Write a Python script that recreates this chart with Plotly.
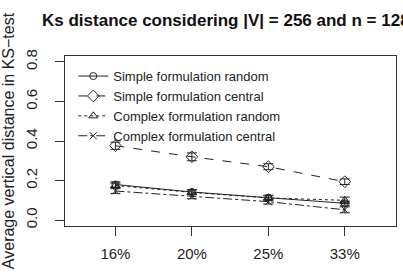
import plotly.graph_objects as go

categories = ["16%", "20%", "25%", "33%"]
simple_random = [0.180, 0.142, 0.113, 0.085]
simple_random_err = [0.013, 0.012, 0.010, 0.010]
simple_central = [0.376, 0.320, 0.270, 0.194]
simple_central_err = [0.018, 0.020, 0.015, 0.014]
complex_random = [0.175, 0.140, 0.112, 0.100]
complex_random_err = [0.012, 0.012, 0.014, 0.016]
complex_central = [0.147, 0.120, 0.093, 0.052]
complex_central_err = [0.012, 0.012, 0.012, 0.015]

series = [
    ("Simple formulation random", simple_random, simple_random_err, "solid", "circle-open", 7),
    ("Simple formulation central", simple_central, simple_central_err, "dash", "diamond-open", 9),
    ("Complex formulation random", complex_random, complex_random_err, "dot", "triangle-up-open", 8),
    ("Complex formulation central", complex_central, complex_central_err, "dashdot", "x-thin-open", 7),
]

xpos = list(range(1, len(categories) + 1))
FONT = "Liberation Sans, Arial, sans-serif"

fig = go.Figure()
for name, vals, errs, dash, sym, msize in series:
    fig.add_trace(go.Scatter(
        x=xpos, y=vals, name=name, mode="lines+markers",
        line=dict(color="#222", width=1, dash=dash),
        marker=dict(symbol=sym, size=msize, color="#222", line=dict(width=1, color="#222")),
        error_y=dict(type="data", array=errs, visible=True, color="#222", thickness=1, width=5),
    ))

fig.update_layout(
    width=403, height=272,
    margin=dict(l=62, r=6, t=56, b=46),
    paper_bgcolor="white", plot_bgcolor="white",
    font=dict(family=FONT, size=14, color="#222"),
    showlegend=True,
    title=dict(
        text="<b>Ks distance considering |V| = 256 and n = 128</b>",
        x=42 / 403, xref="container", xanchor="left",
        y=1 - 20 / 272, yref="container", yanchor="middle",
        font=dict(family=FONT, size=17, color="#111"),
    ),
    legend=dict(
        x=0.025, y=0.97, xanchor="left", yanchor="top",
        bgcolor="rgba(0,0,0,0)", borderwidth=0,
        font=dict(family=FONT, size=13, color="#222"),
    ),
    xaxis=dict(
        range=[0.34, 4.67], tickmode="array", tickvals=xpos, ticktext=categories,
        showgrid=False, zeroline=False,
        showline=True, linecolor="#333", linewidth=1, mirror=True,
        ticks="outside", ticklen=9, tickcolor="#333",
        tickfont=dict(size=15), ticklabelstandoff=5,
    ),
    yaxis=dict(
        range=[-0.03, 0.83], tickvals=[0, 0.2, 0.4, 0.6, 0.8], tickformat=".1f",
        showgrid=False, zeroline=False,
        showline=True, linecolor="#333", linewidth=1, mirror=True,
        ticks="outside", ticklen=9, tickcolor="#333",
        tickangle=-90, tickfont=dict(size=15), ticklabelstandoff=12,
        title=dict(text="Average vertical distance in KS\u2212test", font=dict(size=16), standoff=6),
    ),
)

fig.write_html("out.html")
